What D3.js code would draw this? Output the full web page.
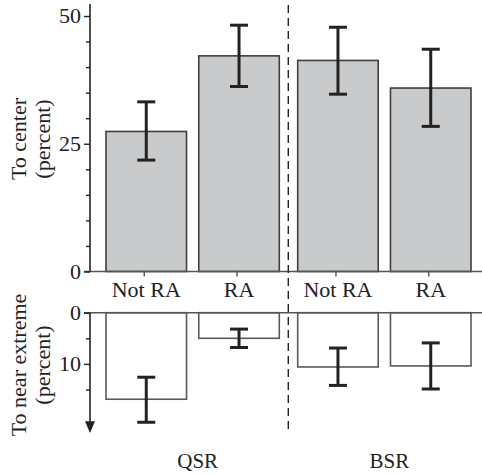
<!DOCTYPE html>
<html><head><meta charset="utf-8">
<script src="https://cdn.jsdelivr.net/npm/d3@7"></script>
<style>
svg text, svg tspan { font-family: 'Liberation Serif', serif !important; }
</style>
</head>
<body style="margin:0">
<svg id="chart" width="482" height="475" style="display:block"></svg>
<script>
// ---- data ----
const groups = ["QSR", "BSR"];
const conditions = ["Not RA", "RA"];
// To center (percent)
const centerMean = [27.4, 42.2, 41.3, 35.9];
const centerLow  = [21.8, 36.2, 34.7, 28.4];
const centerHigh = [33.2, 48.2, 47.8, 43.5];
// To near extreme (percent)
const extremeMean = [16.9, 5.0, 10.6, 10.4];
const extremeLow  = [12.6, 3.2, 6.9, 5.9];
const extremeHigh = [21.4, 6.8, 14.2, 14.9];
const topTicks = [0, 25, 50];
const bottomTicks = [0, 10];

const FONT = "'Liberation Serif', serif";

const rows = [];
groups.forEach((g, gi) => conditions.forEach((c, ci) => {
  const i = gi * 2 + ci;
  rows.push({group: g, cond: c,
    cm: centerMean[i], cl: centerLow[i], ch: centerHigh[i],
    em: extremeMean[i], el: extremeLow[i], eh: extremeHigh[i]});
}));

const svg = d3.select("#chart");
const axisX = 90;

const xGroup = d3.scaleBand().domain(groups).range([106, 471]).paddingInner(0.096).paddingOuter(0);
const xCond = d3.scaleBand().domain(conditions).range([0, xGroup.bandwidth()]).paddingInner(0.132).paddingOuter(0);
const xPos = d => xGroup(d.group) + xCond(d.cond);
const xMid = d => xPos(d) + xCond.bandwidth() / 2;

const yTop = d3.scaleLinear().domain([0, 50]).range([271.5, 16]);
const yBot = d3.scaleLinear().domain([0, 20]).range([312.7, 415.1]);

function txt(sel, size) {
  return sel.style("font-family", FONT, "important").attr("font-size", size).attr("fill", "#222");
}

// ---- top panel bars ----
svg.append("g").selectAll("rect").data(rows).join("rect")
  .attr("x", xPos).attr("width", xCond.bandwidth())
  .attr("y", d => yTop(d.cm)).attr("height", d => yTop(0) - yTop(d.cm))
  .attr("fill", "#c9cacc").attr("stroke", "#3f3f3f").attr("stroke-width", 1.6);

// ---- bottom panel bars ----
svg.append("g").selectAll("rect").data(rows).join("rect")
  .attr("x", xPos).attr("width", xCond.bandwidth())
  .attr("y", yBot(0)).attr("height", d => yBot(d.em) - yBot(0))
  .attr("fill", "#fff").attr("stroke", "#5a5a5a").attr("stroke-width", 1.6);

// ---- error bars ----
function errBars(sel, scale, lo, hi) {
  const g = sel.append("g").attr("stroke", "#222").attr("stroke-width", 3);
  g.selectAll("line.v").data(rows).join("line").attr("class", "v")
    .attr("x1", xMid).attr("x2", xMid)
    .attr("y1", d => scale(d[lo])).attr("y2", d => scale(d[hi]));
  ["lo", "hi"].forEach(k => {
    const key = k === "lo" ? lo : hi;
    g.selectAll("line." + k).data(rows).join("line").attr("class", k)
      .attr("x1", d => xMid(d) - 9).attr("x2", d => xMid(d) + 9)
      .attr("y1", d => scale(d[key])).attr("y2", d => scale(d[key]));
  });
}
errBars(svg, yTop, "cl", "ch");
errBars(svg, yBot, "el", "eh");

// ---- baselines ----
svg.append("line").attr("x1", 84).attr("x2", 482).attr("y1", yTop(0)).attr("y2", yTop(0))
  .attr("stroke", "#555").attr("stroke-width", 1.6);
svg.append("line").attr("x1", 84).attr("x2", 482).attr("y1", yBot(0)).attr("y2", yBot(0))
  .attr("stroke", "#555").attr("stroke-width", 1.6);

// category ticks & labels
svg.append("g").selectAll("line").data(rows).join("line")
  .attr("x1", d => xMid(d) - 2).attr("x2", d => xMid(d) - 2)
  .attr("y1", yTop(0)).attr("y2", yTop(0) + 5)
  .attr("stroke", "#555").attr("stroke-width", 1.4);
txt(svg.append("g").selectAll("text").data(rows).join("text"), 22)
  .attr("x", xMid).attr("y", 296.5).attr("text-anchor", "middle")
  .text(d => d.cond);

// group labels
txt(svg.append("g").selectAll("text").data(groups).join("text"), 21)
  .attr("x", g => xGroup(g) + xGroup.bandwidth() / 2 + 5).attr("y", 468)
  .attr("text-anchor", "middle").text(g => g);

// ---- y axes ----
const axTop = svg.append("g").attr("transform", `translate(${axisX},0)`);
axTop.call(d3.axisLeft(yTop).tickValues(d3.range(0, 51, 5)).tickSize(4).tickFormat(""));
axTop.select(".domain").remove();
axTop.selectAll(".tick line").attr("stroke", "#222").attr("stroke-width", 1.4)
  .attr("x2", d => topTicks.includes(d) ? -6 : -4);
axTop.append("line").attr("x1", 0).attr("x2", 0).attr("y1", 4).attr("y2", yTop(0))
  .attr("stroke", "#222").attr("stroke-width", 1.6);
txt(axTop.selectAll(".lbl").data(topTicks).join("text").attr("class", "lbl"), 22)
  .attr("x", -9).attr("y", d => yTop(d) + 7).attr("text-anchor", "end")
  .text(d => d);

const axBot = svg.append("g").attr("transform", `translate(${axisX},0)`);
axBot.call(d3.axisLeft(yBot).tickValues(d3.range(0, 16, 5)).tickSize(4).tickFormat(""));
axBot.select(".domain").remove();
axBot.selectAll(".tick line").attr("stroke", "#222").attr("stroke-width", 1.4)
  .attr("x2", d => bottomTicks.includes(d) ? -6 : -4);
axBot.append("line").attr("x1", 0).attr("x2", 0).attr("y1", yBot(0)).attr("y2", yBot(21.4))
  .attr("stroke", "#222").attr("stroke-width", 1.6);
axBot.append("path")
  .attr("d", `M-5,${yBot(21.4) - 1} L5,${yBot(21.4) - 1} L0,${yBot(23.5)} Z`)
  .attr("fill", "#222");
txt(axBot.selectAll(".lbl").data(bottomTicks).join("text").attr("class", "lbl"), 22)
  .attr("x", -9).attr("y", d => yBot(d) + 7).attr("text-anchor", "end")
  .text(d => d);

// axis titles
function yTitle(lines, cy) {
  const g = svg.append("g").attr("transform", `translate(26,${cy}) rotate(-90)`);
  txt(g.selectAll("text").data(lines).join("text"), 22)
    .attr("text-anchor", "middle").attr("x", 0).attr("y", (d, i) => i * 24)
    .text(d => d);
}
yTitle(["To center", "(percent)"], 139);
yTitle(["To near extreme", "(percent)"], 365);

// dashed divider
svg.append("line").attr("x1", 288.3).attr("x2", 288.3).attr("y1", 5).attr("y2", 432)
  .attr("stroke", "#222").attr("stroke-width", 1.4).attr("stroke-dasharray", "8,5");
</script>
</body></html>
